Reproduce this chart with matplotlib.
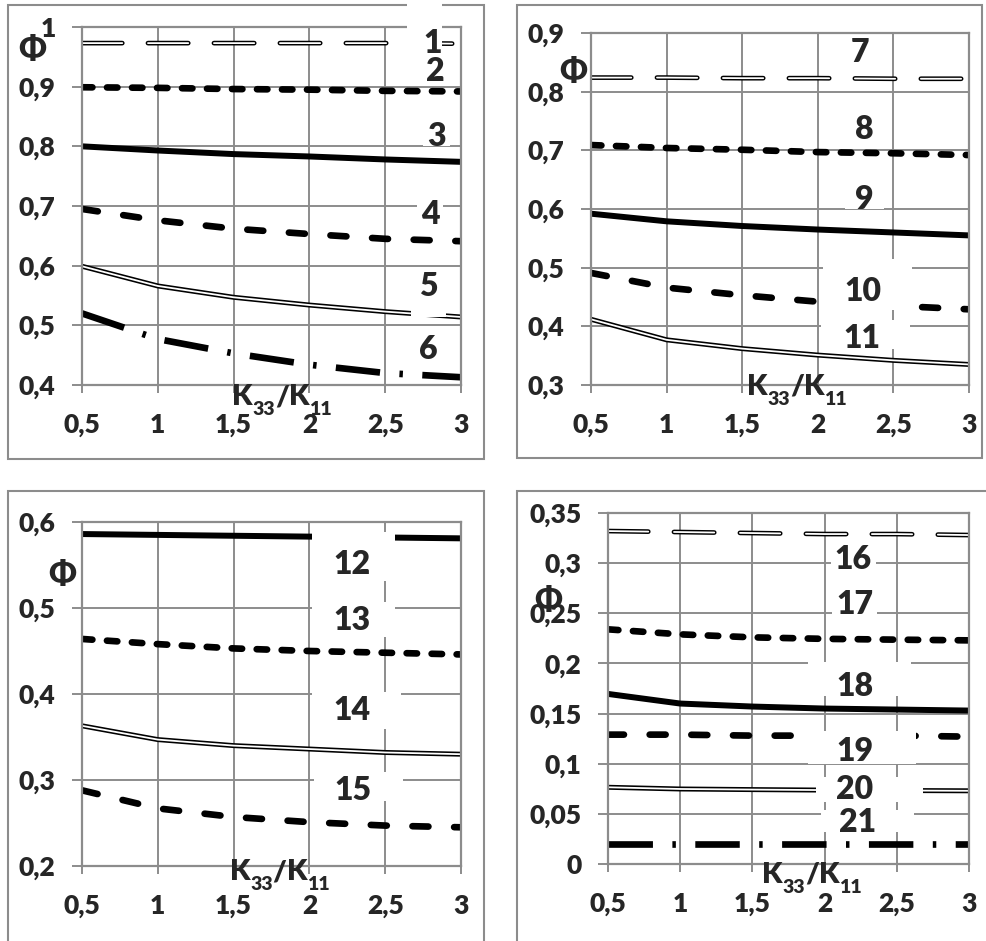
import os
import matplotlib
matplotlib.use('Agg')
import matplotlib.pyplot as plt
from matplotlib import font_manager as fm
from matplotlib.font_manager import FontProperties
from matplotlib.ft2font import FT2Font
from matplotlib.patches import Rectangle
from matplotlib.path import Path
from matplotlib.text import Text

plt.rcParams['lines.scale_dashes'] = False


def find_font(prefs):
    files = {os.path.basename(f.fname): f.fname for f in fm.fontManager.ttflist}
    for p in prefs:
        if p in files:
            return files[p]
    return fm.findfont(FontProperties(family='DejaVu Sans', weight='bold'))


HEAVY = find_font(['Lato-ExtraBold.ttf', 'Lato-Heavy.ttf', 'Lato-Bold.ttf',
                   'OpenSans-ExtraBold.ttf', 'OpenSans-Bold.ttf',
                   'LiberationSans-Bold.ttf'])


def has_glyph(path, ch):
    try:
        return FT2Font(path).get_char_index(ord(ch)) != 0
    except Exception:
        return False


PHI_PATH = HEAVY if has_glyph(HEAVY, 'Φ') else fm.findfont(
    FontProperties(family='DejaVu Sans', weight='bold'))


def fp(size, path=None):
    return FontProperties(fname=path or HEAVY, size=size)


# ---------------- data ----------------
k_ratio = [0.5, 1, 1.5, 2, 2.5, 3]
x_ticks = [0.5, 1, 1.5, 2, 2.5, 3]

# panel 1
phi_1 = [0.973, 0.973, 0.973, 0.973, 0.973, 0.972]
phi_2 = [0.899, 0.898, 0.896, 0.895, 0.893, 0.892]
phi_3 = [0.800, 0.793, 0.787, 0.783, 0.778, 0.774]
phi_4 = [0.695, 0.676, 0.662, 0.653, 0.645, 0.641]
phi_5 = [0.599, 0.566, 0.547, 0.534, 0.523, 0.514]
phi_6 = [0.520, 0.477, 0.453, 0.434, 0.420, 0.413]
# panel 2
phi_7 = [0.824, 0.824, 0.823, 0.823, 0.822, 0.822]
phi_8 = [0.709, 0.704, 0.701, 0.697, 0.695, 0.692]
phi_9 = [0.592, 0.579, 0.571, 0.565, 0.560, 0.555]
phi_10 = [0.491, 0.466, 0.453, 0.442, 0.435, 0.429]
phi_11 = [0.412, 0.377, 0.362, 0.351, 0.342, 0.335]
# panel 3
phi_12 = [0.586, 0.585, 0.584, 0.583, 0.582, 0.581]
phi_13 = [0.464, 0.458, 0.453, 0.450, 0.448, 0.446]
phi_14 = [0.363, 0.347, 0.340, 0.336, 0.332, 0.330]
phi_15 = [0.288, 0.267, 0.257, 0.251, 0.247, 0.245]
# panel 4
phi_16 = [0.332, 0.331, 0.330, 0.329, 0.329, 0.328]
phi_17 = [0.234, 0.229, 0.226, 0.2245, 0.2237, 0.223]
phi_18 = [0.1696, 0.160, 0.157, 0.155, 0.154, 0.153]
phi_19 = [0.129, 0.129, 0.128, 0.128, 0.128, 0.127]
phi_20 = [0.0765, 0.0748, 0.0742, 0.0737, 0.0733, 0.073]
phi_21 = [0.020, 0.020, 0.020, 0.020, 0.020, 0.020]

y_ticks_1 = [0.4, 0.5, 0.6, 0.7, 0.8, 0.9, 1.0]
y_ticks_2 = [0.3, 0.4, 0.5, 0.6, 0.7, 0.8, 0.9]
y_ticks_3 = [0.2, 0.3, 0.4, 0.5, 0.6]
y_ticks_4 = [0, 0.05, 0.1, 0.15, 0.2, 0.25, 0.3, 0.35]

# ---------------- layout ----------------
W, H = 986, 941
fig = plt.figure(figsize=(W / 100, H / 100), dpi=100)
fig.patch.set_facecolor('white')

GRID = '#8c8c8c'
TXT = '#262626'


def px_axes(l, t, r, b):
    return fig.add_axes([l / W, 1 - b / H, (r - l) / W, (b - t) / H])


def frame(l, t, r, b):
    rect = Rectangle((l / W, 1 - b / H), (r - l) / W, (b - t) / H,
                     transform=fig.transFigure, fill=False,
                     edgecolor=GRID, linewidth=1.5, zorder=-1)
    fig.add_artist(rect)


frame(8, 5, 484, 459)
frame(517, 5, 982, 458)
frame(8, 491, 484, 990)
frame(517, 491, 1010, 990)

ax1 = px_axes(82, 27, 461, 385)
ax2 = px_axes(591, 33, 969, 385)
ax3 = px_axes(82, 522, 461, 866)
ax4 = px_axes(608, 513, 969, 864)


def fmt(v):
    return f"{round(v, 2):g}".replace('.', ',')


def style_axes(ax, ylim, yticks):
    ax.set_xlim(0.5, 3)
    ax.set_ylim(*ylim)
    ax.set_xticks(x_ticks)
    ax.set_yticks(yticks)
    ax.set_xticklabels([fmt(v) for v in x_ticks], fontproperties=fp(19))
    ax.set_yticklabels([fmt(v) for v in yticks], fontproperties=fp(19))
    ax.grid(True, color=GRID, linewidth=1.4)
    ax.set_axisbelow(True)
    for sp in ax.spines.values():
        sp.set_color(GRID)
        sp.set_linewidth(1.6)
    ax.tick_params(axis='both', colors=GRID, labelcolor=TXT,
                   width=1.4, direction='out')
    ax.tick_params(axis='x', length=6, pad=14)
    ax.tick_params(axis='y', length=7, pad=12)


def draw(ax, x, y, kind):
    if kind == 'double_dash':
        ax.plot(x, y, color='black', lw=3.4, dashes=(29, 18.5), dash_capstyle='round')
        ax.plot(x, y, color='white', lw=1.3, dashes=(29, 18.5), dash_capstyle='round')
    elif kind == 'short_dash':
        ax.plot(x, y, color='black', lw=4.8, dashes=(7.5, 10.5), dash_capstyle='round')
    elif kind == 'solid':
        ax.plot(x, y, color='black', lw=4.3, solid_capstyle='butt', solid_joinstyle='round')
    elif kind == 'dash':
        ax.plot(x, y, color='black', lw=4.8, dashes=(11.5, 18.5), dash_capstyle='round')
    elif kind == 'double_solid':
        ax.plot(x, y, color='black', lw=3.6, solid_capstyle='butt', solid_joinstyle='round')
        ax.plot(x, y, color='white', lw=1.3, solid_capstyle='butt', solid_joinstyle='round')
    elif kind == 'dashdot':
        ax.plot(x, y, color='black', lw=4.8, dashes=(32, 14, 2.5, 14), dash_capstyle='butt')


def box_style(pl, pr, pt, pb):
    def f(x0, y0, width, height, mutation_size):
        verts = [(x0 - pl, y0 - pb), (x0 + width + pr, y0 - pb),
                 (x0 + width + pr, y0 + height + pt), (x0 - pl, y0 + height + pt),
                 (x0 - pl, y0 - pb)]
        return Path(verts, closed=True)
    return f


def label(ax, x, y, s, pads=(4, 4, -4, -5)):
    ax.text(x, y, s, fontproperties=fp(23), color=TXT,
            ha='center', va='center', zorder=6,
            bbox=dict(boxstyle=box_style(*pads), facecolor='white',
                      edgecolor='none'))


def phi_label(ax, xa, ya):
    ax.text(xa, ya, 'Φ', transform=ax.transAxes, fontproperties=fp(23, PHI_PATH),
            color=TXT, ha='center', va='center', zorder=6)


renderer = fig.canvas.get_renderer()


def k_label(ax, xa, ya):
    big, small, dy = fp(21), fp(14), -10
    pieces = [('K', big, 0), ('33', small, dy), ('/', big, 0),
              ('K', big, 0), ('11', small, dy)]
    widths = []
    for s, f_, _ in pieces:
        t = Text(0, 0, s, fontproperties=f_)
        t.set_figure(fig)
        widths.append(t.get_window_extent(renderer).width)
    X0, Y0 = ax.transAxes.transform((xa, ya))
    x = X0 - sum(widths) / 2
    for (s, f_, d), w in zip(pieces, widths):
        fig.text(x / W, (Y0 + d) / H, s, fontproperties=f_, color=TXT,
                 ha='left', va='baseline', zorder=6)
        x += w


# ---------------- panel 1 ----------------
style_axes(ax1, (0.4, 1.0), y_ticks_1)
draw(ax1, k_ratio, phi_1, 'double_dash')
draw(ax1, k_ratio, phi_2, 'short_dash')
draw(ax1, k_ratio, phi_3, 'solid')
draw(ax1, k_ratio, phi_4, 'dash')
draw(ax1, k_ratio, phi_5, 'double_solid')
draw(ax1, k_ratio, phi_6, 'dashdot')
label(ax1, 2.815, 0.973, '1', (17, 0, 26, -5))
label(ax1, 2.83, 0.925, '2')
label(ax1, 2.84, 0.816, '3')
label(ax1, 2.795, 0.685, '4')
label(ax1, 2.785, 0.565, '5', (8, 8, -4, 16))
label(ax1, 2.785, 0.459, '6')
phi_label(ax1, -0.132, 0.936)
k_label(ax1, 0.528, -0.056)

# ---------------- panel 2 ----------------
style_axes(ax2, (0.3, 0.9), y_ticks_2)
draw(ax2, k_ratio, phi_7, 'double_dash')
draw(ax2, k_ratio, phi_8, 'short_dash')
draw(ax2, k_ratio, phi_9, 'solid')
draw(ax2, k_ratio, phi_10, 'dash')
draw(ax2, k_ratio, phi_11, 'double_solid')
label(ax2, 2.28, 0.866, '7')
label(ax2, 2.31, 0.735, '8')
label(ax2, 2.31, 0.6155, '9', (10, 10, -4, -5))
label(ax2, 2.30, 0.459, '10', (22, 30, 18, 4))
label(ax2, 2.29, 0.380, '11', (22, 30, 4, -4))
phi_label(ax2, -0.048, 0.892)
k_label(ax2, 0.545, -0.028)

# ---------------- panel 3 ----------------
style_axes(ax3, (0.2, 0.6), y_ticks_3)
draw(ax3, k_ratio, phi_12, 'solid')
draw(ax3, k_ratio, phi_13, 'short_dash')
draw(ax3, k_ratio, phi_14, 'double_solid')
draw(ax3, k_ratio, phi_15, 'dash')
label(ax3, 2.28, 0.550, '12', (21, 25, 18, 2))
label(ax3, 2.28, 0.486, '13', (21, 25, 4, 2))
label(ax3, 2.28, 0.381, '14', (21, 31, 4, 4))
label(ax3, 2.29, 0.288, '15', (21, 31, 4, -4))
phi_label(ax3, -0.053, 0.846)
k_label(ax3, 0.522, -0.041)

# ---------------- panel 4 ----------------
style_axes(ax4, (0, 0.35), y_ticks_4)
draw(ax4, k_ratio, phi_16, 'double_dash')
draw(ax4, k_ratio, phi_17, 'short_dash')
draw(ax4, k_ratio, phi_18, 'solid')
draw(ax4, k_ratio, phi_19, 'dash')
draw(ax4, k_ratio, phi_20, 'double_solid')
draw(ax4, k_ratio, phi_21, 'dashdot')
label(ax4, 2.20, 0.3034, '16')
label(ax4, 2.21, 0.2586, '17')
label(ax4, 2.21, 0.177, '18', (28, 38, 10, -5))
label(ax4, 2.21, 0.1123, '19', (28, 43, 6, -2))
label(ax4, 2.21, 0.074, '20', (20, 50, -2, -2))
label(ax4, 2.23, 0.041, '21', (18, 38, -2, -5))
phi_label(ax4, -0.166, 0.752)
k_label(ax4, 0.565, -0.054)

fig.savefig('out.png', dpi=100, facecolor='white')
